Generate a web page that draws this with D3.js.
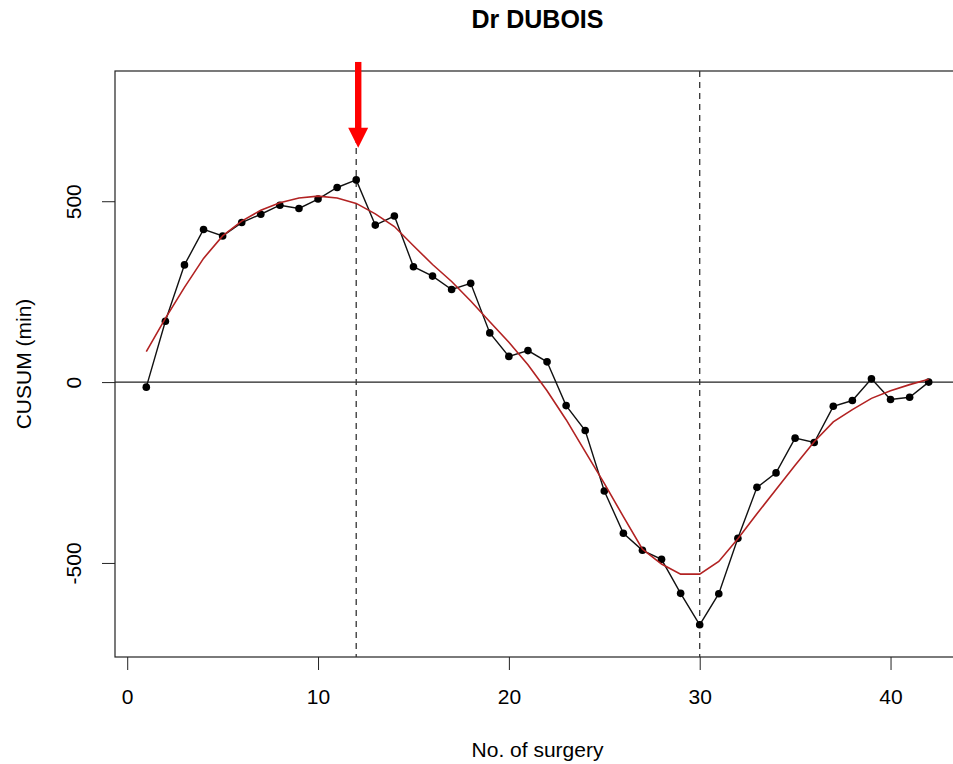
<!DOCTYPE html>
<html>
<head>
<meta charset="utf-8">
<script src="https://cdn.jsdelivr.net/npm/d3@7/dist/d3.min.js"></script>
<style>
  body { margin: 0; background: #fff; }
  svg text { font-family: 'Liberation Sans', Arial, sans-serif; fill: #000; }
</style>
</head>
<body>
<svg id="chart" width="953" height="764"></svg>
<script>
// surgery number 1..42
const surgery = d3.range(1, 43)

// CUSUM (min) per surgery
const cusum = [-14, 168, 324, 422, 404, 441, 464, 489, 480, 506, 538, 559, 434, 459,
  319, 293, 256, 273, 136, 71, 87, 56, -65, -134, -301, -418, -465, -490, -584,
  -671, -585, -432, -291, -251, -155, -167, -67, -51, 9, -48, -42, 0]

// fitted smooth curve (red)
const smooth = [84, 176, 262, 342, 404, 445, 475, 496, 509, 514, 509, 494, 465, 430,
  377, 325, 278, 224, 167, 110, 48, -24, -104, -192, -280, -372, -462, -503, -531,
  -531, -496, -433, -364, -297, -230, -165, -110, -76, -45, -24, -7, 8]

const xTicks = [0, 10, 20, 30, 40]
const yTicks = [-500, 0, 500]
const cutPoints = [12, 30]
const arrowAt = 12

let svg = d3.select('#chart')

let x = d3.scaleLinear().domain([-0.64, 43.64]).range([115, 960])
let y = d3.scaleLinear().domain([-760, 860]).range([657, 71])

let pLeft = x.range()[0], pRight = x.range()[1]
let pTop = y.range()[1], pBottom = y.range()[0]

// plot frame
svg.append('rect')
  .attr('x', pLeft).attr('y', pTop)
  .attr('width', pRight - pLeft).attr('height', pBottom - pTop)
  .attr('fill', 'none').attr('stroke', '#222').attr('stroke-width', 1.2)

// x axis
let xAxis = svg.append('g')
  .attr('transform', 'translate(0,' + pBottom + ')')
  .call(d3.axisBottom(x).tickValues(xTicks).tickSize(13).tickPadding(19).tickSizeOuter(0))
xAxis.select('.domain').remove()
xAxis.selectAll('line').attr('stroke', '#222')
xAxis.selectAll('text').style('font-size', '21px')

// y axis (plain hyphen minus like R)
let yAxis = svg.append('g')
  .attr('transform', 'translate(' + pLeft + ',0)')
  .call(d3.axisLeft(y).tickValues(yTicks).tickSize(13).tickSizeOuter(0).tickFormat(d => String(d)))
yAxis.select('.domain').remove()
yAxis.selectAll('line').attr('stroke', '#222')
yAxis.selectAll('text')
  .attr('x', null).attr('dy', null)
  .attr('text-anchor', 'middle')
  .attr('transform', 'translate(-34,0) rotate(-90)')
  .style('font-size', '21px')

// zero line
svg.append('line')
  .attr('x1', pLeft).attr('x2', pRight)
  .attr('y1', y(0)).attr('y2', y(0))
  .attr('stroke', '#222').attr('stroke-width', 1.3)

// dashed cut lines
svg.selectAll('.cut')
  .data(cutPoints)
  .enter().append('line')
  .attr('class', 'cut')
  .attr('x1', d => x(d)).attr('x2', d => x(d))
  .attr('y1', pTop).attr('y2', pBottom)
  .attr('stroke', '#333').attr('stroke-width', 1.3)
  .attr('stroke-dasharray', '6,5')

// observed CUSUM line + points
let pts = surgery.map((s, i) => [s, cusum[i]])
svg.append('path')
  .datum(pts)
  .attr('fill', 'none').attr('stroke', '#111').attr('stroke-width', 1.4)
  .attr('d', d3.line().x(d => x(d[0])).y(d => y(d[1])))

svg.append('g').selectAll('circle')
  .data(pts)
  .enter().append('circle')
  .attr('cx', d => x(d[0])).attr('cy', d => y(d[1]))
  .attr('r', 3.8).attr('fill', '#000')

// smooth curve
svg.append('path')
  .datum(surgery.map((s, i) => [s, smooth[i]]))
  .attr('fill', 'none').attr('stroke', '#b22222').attr('stroke-width', 1.6)
  .attr('d', d3.line().x(d => x(d[0])).y(d => y(d[1])))

// red arrow
let ax = x(arrowAt) + 2
let aTop = y(885), aHeadStart = y(703), aTip = y(648)
svg.append('rect')
  .attr('x', ax - 3.2).attr('y', aTop)
  .attr('width', 6.4).attr('height', aHeadStart - aTop + 1)
  .attr('fill', '#ff0000')
svg.append('path')
  .attr('d', 'M' + (ax - 10) + ',' + aHeadStart + 'L' + (ax + 10) + ',' + aHeadStart + 'L' + ax + ',' + aTip + 'Z')
  .attr('fill', '#ff0000')

// title and axis labels
let cx = (pLeft + pRight) / 2
svg.append('text')
  .attr('x', cx).attr('y', 28)
  .attr('text-anchor', 'middle')
  .style('font-size', '25px').style('font-weight', 'bold')
  .text('Dr DUBOIS')

svg.append('text')
  .attr('x', cx).attr('y', 757)
  .attr('text-anchor', 'middle')
  .style('font-size', '21px')
  .text('No. of surgery')

svg.append('text')
  .attr('transform', 'translate(31,' + ((pTop + pBottom) / 2) + ') rotate(-90)')
  .attr('text-anchor', 'middle')
  .style('font-size', '21px')
  .text('CUSUM (min)')
</script>
</body>
</html>
